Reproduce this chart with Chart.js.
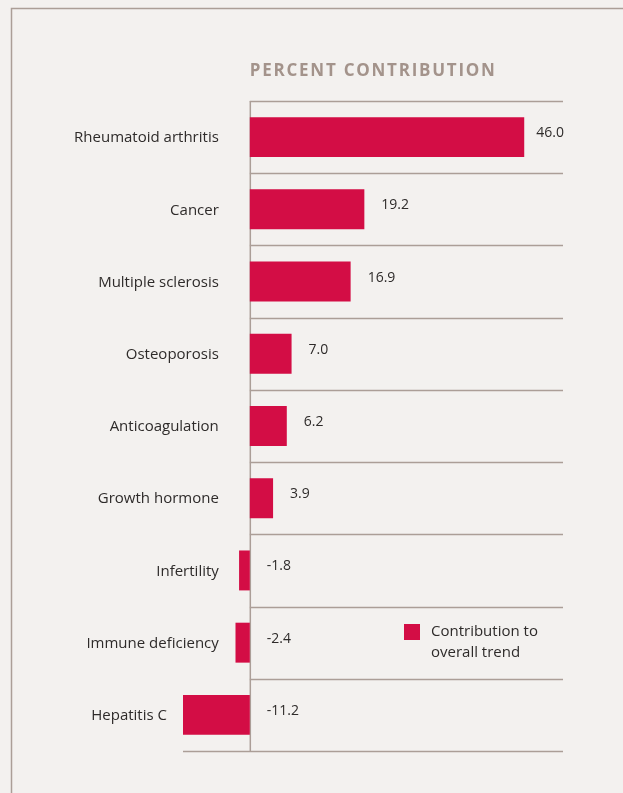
<!DOCTYPE html>
<html lang="en">
<head>
    <meta charset="UTF-8">
    <title>Percent Contribution</title>
    <script src="https://cdn.jsdelivr.net/npm/chart.js"></script>
    <style>
        html, body {
            margin: 0;
            padding: 0;
            background: #f3f1ef;
        }
        .chart-box {
            width: 623px;
            height: 793px;
        }
    </style>
</head>
<body>
    <div class="chart-box">
        <canvas id="contribChart" width="623" height="793"></canvas>
    </div>
    <script>
        // Data
        const categories = [
            'Rheumatoid arthritis',
            'Cancer',
            'Multiple sclerosis',
            'Osteoporosis',
            'Anticoagulation',
            'Growth hormone',
            'Infertility',
            'Immune deficiency',
            'Hepatitis C'
        ];
        const contribution = [46.0, 19.2, 16.9, 7.0, 6.2, 3.9, -1.8, -2.4, -11.2];
        const chartTitle = 'PERCENT CONTRIBUTION';
        const legendLines = ['Contribution to', 'overall trend'];

        const BAR_COLOR = '#d30d45';
        const LINE_COLOR = '#ab9e97';
        const TEXT_COLOR = '#2e2b2a';
        const TITLE_COLOR = '#a3938b';
        const FONT = '"Open Sans", "Noto Sans", sans-serif';

        // Background, frame, title, row rules and zero axis (under the bars)
        const backdrop = {
            id: 'backdrop',
            beforeDraw(chart) {
                const { ctx, width, height } = chart;
                ctx.save();
                ctx.fillStyle = '#f3f1ef';
                ctx.fillRect(0, 0, width, height);

                ctx.strokeStyle = LINE_COLOR;
                ctx.lineWidth = 1.5;
                ctx.beginPath();
                ctx.moveTo(11.5, height);
                ctx.lineTo(11.5, 8.5);
                ctx.lineTo(width, 8.5);
                ctx.stroke();
                ctx.restore();
            },
            beforeDatasetsDraw(chart) {
                const { ctx, chartArea: area, scales: { x, y } } = chart;
                const zero = x.getPixelForValue(0);
                ctx.save();

                ctx.fillStyle = TITLE_COLOR;
                ctx.font = 'bold 17px ' + FONT;
                ctx.letterSpacing = '1.75px';
                ctx.textBaseline = 'middle';
                ctx.fillText(chartTitle, zero, 71);
                ctx.letterSpacing = '0px';

                ctx.strokeStyle = LINE_COLOR;
                ctx.lineWidth = 1.5;
                for (let i = 0; i <= categories.length; i++) {
                    const yy = Math.round(y.getPixelForValue(i - 0.5)) + 0.5;
                    const startX = i === categories.length ? area.left : zero;
                    ctx.beginPath();
                    ctx.moveTo(startX, yy);
                    ctx.lineTo(area.right, yy);
                    ctx.stroke();
                }
                ctx.beginPath();
                ctx.moveTo(zero + 0.5, area.top);
                ctx.lineTo(zero + 0.5, area.bottom);
                ctx.stroke();
                ctx.restore();
            },
            afterDraw(chart) {
                const { ctx, chartArea: area, scales: { x, y } } = chart;
                const zero = x.getPixelForValue(0);
                ctx.save();
                ctx.fillStyle = TEXT_COLOR;
                ctx.textBaseline = 'middle';

                // category names, kept clear of negative bars
                ctx.font = '15px ' + FONT;
                ctx.textAlign = 'right';
                categories.forEach((name, i) => {
                    const barLeft = x.getPixelForValue(Math.min(0, contribution[i]));
                    const right = Math.min(zero - 31, barLeft - 16);
                    ctx.fillText(name, right, y.getPixelForValue(i) + 1);
                });

                // value labels
                ctx.font = '500 14px ' + FONT;
                ctx.textAlign = 'left';
                contribution.forEach((v, i) => {
                    const text = v.toFixed(1);
                    const w = ctx.measureText(text).width;
                    let left = x.getPixelForValue(Math.max(0, v)) + 17;
                    left = Math.min(left, area.right + 1 - w);
                    ctx.fillText(text, left, y.getPixelForValue(i) - 4);
                });

                // legend
                ctx.fillStyle = BAR_COLOR;
                ctx.fillRect(404, 624, 16, 16);
                ctx.fillStyle = TEXT_COLOR;
                ctx.font = '15px ' + FONT;
                legendLines.forEach((line, k) => {
                    ctx.fillText(line, 431, 632 + k * 21);
                });
                ctx.restore();
            }
        };

        new Chart(document.getElementById('contribChart'), {
            type: 'bar',
            data: {
                labels: categories,
                datasets: [{
                    label: legendLines.join(' '),
                    data: contribution,
                    backgroundColor: BAR_COLOR,
                    borderWidth: 0,
                    barPercentage: 0.553,
                    categoryPercentage: 1
                }]
            },
            options: {
                indexAxis: 'y',
                responsive: false,
                animation: false,
                layout: {
                    padding: { left: 183, right: 60, top: 101, bottom: 42 }
                },
                scales: {
                    x: {
                        display: false,
                        min: Math.min(...contribution),
                        max: 52.5
                    },
                    y: {
                        display: false
                    }
                },
                plugins: {
                    legend: { display: false },
                    tooltip: { enabled: false }
                }
            },
            plugins: [backdrop]
        });
    </script>
</body>
</html>
